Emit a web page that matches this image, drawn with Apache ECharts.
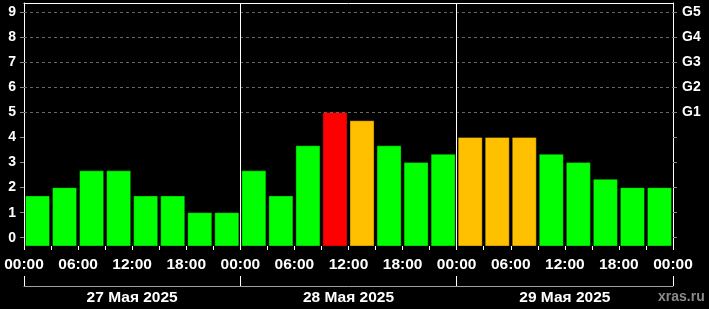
<!DOCTYPE html>
<html>
<head>
<meta charset="utf-8">
<script src="https://cdn.jsdelivr.net/npm/echarts@6/dist/echarts.min.js"></script>
<style>
html,body{margin:0;padding:0;background:#000;}
#chart{width:709px;height:309px;}
</style>
</head>
<body>
<div id="chart"></div>
<script>
// ---- data ----
const slotStartHours = [0,3,6,9,12,15,18,21, 24,27,30,33,36,39,42,45, 48,51,54,57,60,63,66,69];
const kpValues = [1.67,2,2.67,2.67,1.67,1.67,1,1, 2.67,1.67,3.67,5,4.67,3.67,3,3.33, 4,4,4,3.33,3,2.33,2,2];
const hourTickValues = [0,3,6,9,12,15,18,21,24,27,30,33,36,39,42,45,48,51,54,57,60,63,66,69,72];
const hourLabelValues = [0,6,12,18,24,30,36,42,48,54,60,66,72];
const hourLabels = ['00:00','06:00','12:00','18:00','00:00','06:00','12:00','18:00','00:00','06:00','12:00','18:00','00:00'];
const dayLabels = ['27 Мая 2025','28 Мая 2025','29 Мая 2025'];
const dayBoundaries = [24,48];
const kpTickValues = [0,1,2,3,4,5,6,7,8,9];
const gLevels = [5,6,7,8,9];
const gLabels = ['G1','G2','G3','G4','G5'];

const Y_MIN = -0.33, Y_MAX = 9.37, SLOT = 3;
const FONT = '"Liberation Sans", Arial, sans-serif';

function barColor(v){ return v >= 5 ? '#ff0000' : (v >= 4 ? '#ffc000' : '#00ff00'); }

const chart = echarts.init(document.getElementById('chart'), null, {renderer:'canvas'});
chart.setOption({
  backgroundColor:'#000',
  animation:false,
  grid:{left:24, right:36, top:3, bottom:63, containLabel:false},
  xAxis:[
    {
      type:'value', min:0, max:72, position:'bottom',
      axisLine:{show:false, onZero:false},
      axisTick:{show:true, length:4, lineStyle:{color:'#fff'}, customValues:hourTickValues},
      axisLabel:{show:true, customValues:hourLabelValues, margin:11,
        color:'#fff', fontFamily:FONT, fontWeight:'bold', fontSize:15.5,
        formatter:function(v){ const i = hourLabelValues.indexOf(v); return i>=0 ? hourLabels[i] : ''; }},
      splitLine:{show:false}
    },
    {
      type:'category', data:dayLabels, position:'bottom', offset:40,
      axisLine:{show:true, onZero:false, lineStyle:{color:'#a0a0a0', width:1}},
      axisTick:{show:true, inside:true, length:10, lineStyle:{color:'#fff'}},
      axisLabel:{margin:4, color:'#fff', fontFamily:FONT, fontWeight:'bold', fontSize:15.5},
      splitLine:{show:false}
    },
    {
      type:'value', min:0, max:72, position:'top',
      axisLine:{show:true, onZero:false, lineStyle:{color:'#fff'}},
      axisTick:{show:false}, axisLabel:{show:false}, splitLine:{show:false}
    }
  ],
  yAxis:[
    {
      type:'value', min:Y_MIN, max:Y_MAX, position:'left',
      axisLine:{show:true, onZero:false, lineStyle:{color:'#fff'}},
      axisTick:{show:true, length:4, lineStyle:{color:'#888'}, customValues:kpTickValues},
      axisLabel:{customValues:kpTickValues, margin:8, color:'#fff', fontFamily:FONT, fontWeight:'bold', fontSize:14,
        formatter:function(v){ return String(v); }},
      splitLine:{show:false}
    },
    {
      type:'value', min:Y_MIN, max:Y_MAX, position:'right',
      axisLine:{show:true, onZero:false, lineStyle:{color:'#fff'}},
      axisTick:{show:true, length:4, lineStyle:{color:'#888'}, customValues:kpTickValues},
      axisLabel:{customValues:gLevels, margin:9, color:'#fff', fontFamily:FONT, fontWeight:'bold', fontSize:14,
        formatter:function(v){ const i = gLevels.indexOf(v); return i>=0 ? gLabels[i] : ''; }},
      splitLine:{show:false}
    }
  ],
  series:[
    {
      type:'custom',
      xAxisIndex:0, yAxisIndex:0,
      data: slotStartHours.map(function(h,i){ return [h, kpValues[i]]; }),
      encode:{x:0, y:1},
      renderItem:function(params, api){
        const h = api.value(0), v = api.value(1);
        const p0 = api.coord([h, v]);
        const p1 = api.coord([h + SLOT, Y_MIN]);
        const gap = 1.5;
        return {
          type:'rect',
          shape:{x:p0[0]+gap, y:p0[1], width:(p1[0]-p0[0])-2*gap, height:p1[1]-p0[1]},
          style:{fill:barColor(v), stroke:'rgba(0,0,0,0.35)', lineWidth:1}
        };
      },
      markLine:{
        silent:true, symbol:'none', animation:false,
        label:{show:false},
        lineStyle:{color:'#666', type:[3,3], width:1},
        data: gLevels.map(function(g){ return {yAxis:g}; })
      },
      z:2
    },
    {
      type:'line', xAxisIndex:0, yAxisIndex:0, data:[], silent:true,
      markLine:{
        silent:true, symbol:'none', animation:false,
        label:{show:false},
        lineStyle:{color:'#fff', type:'solid', width:1},
        data: dayBoundaries.map(function(d){ return {xAxis:d}; })
      },
      z:5
    }
  ],
  graphic:[
    {type:'text', left:658, top:290, silent:true,
     style:{text:'xras.ru', fill:'#8a8a8a', font:'bold 14px "Liberation Sans", Arial, sans-serif'}}
  ]
});
</script>
</body>
</html>
